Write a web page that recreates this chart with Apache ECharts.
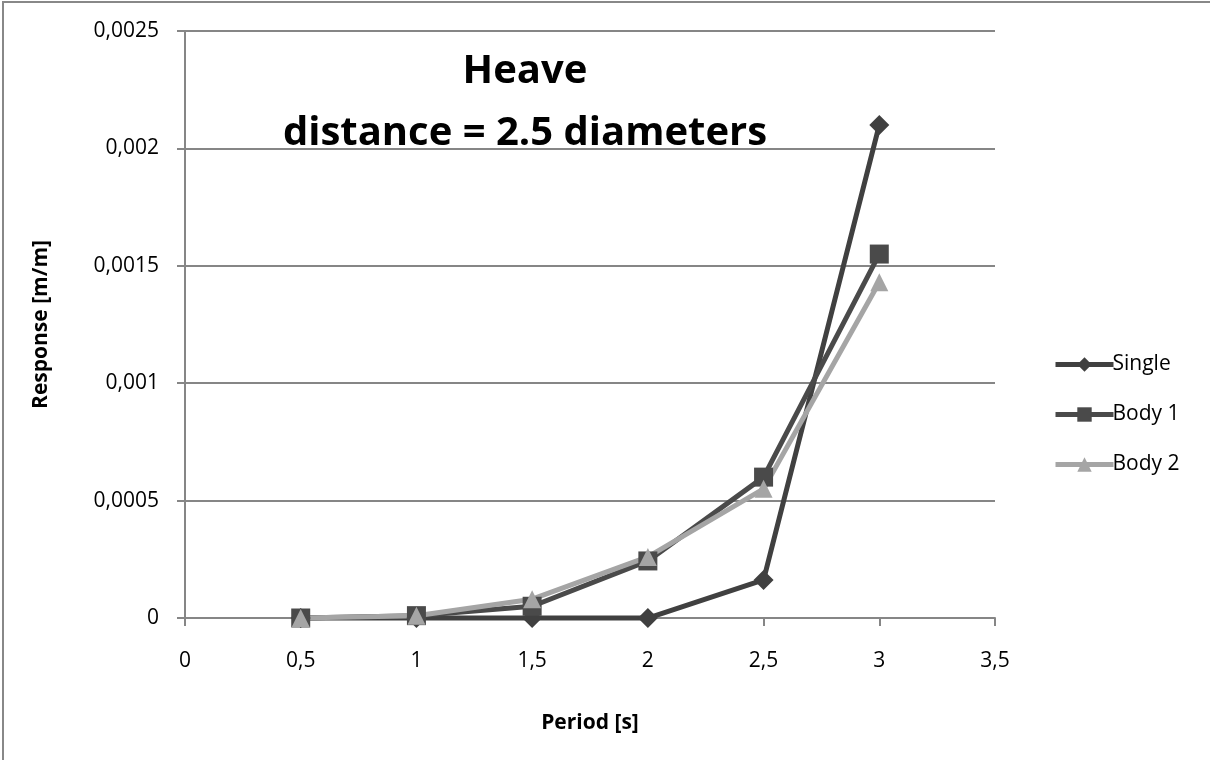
<!DOCTYPE html>
<html>
<head>
<meta charset="utf-8">
<script src="https://cdn.jsdelivr.net/npm/echarts@6/dist/echarts.min.js"></script>
<style>
  html, body { margin: 0; padding: 0; background: #fff; }
  #chart { width: 1210px; height: 760px; }
</style>
</head>
<body>
<div id="chart"></div>
<script>
// Heave response vs. wave period
const periods = [0.5, 1, 1.5, 2, 2.5, 3];
const single = [0, 0, 0, 0, 0.000162, 0.0021];
const body1 = [0, 0.00001, 0.00005, 0.000243, 0.0006, 0.00155];
const body2 = [0, 0.00001, 0.00008, 0.00026, 0.00055, 0.00143];
const yTickLabels = ['0', '0,0005', '0,001', '0,0015', '0,002', '0,0025'];
const xTickLabels = ['0', '0,5', '1', '1,5', '2', '2,5', '3', '3,5'];

const font = "'Open Sans', 'Noto Sans', sans-serif";

function pairs(vals) { return periods.map((p, i) => [p, vals[i]]); }

const chart = echarts.init(document.getElementById('chart'), null, { renderer: 'canvas' });

const seriesDefs = [
  { name: 'Single', data: single, color: '#404040', symbol: 'diamond', size: 20 },
  { name: 'Body 1', data: body1, color: '#4a4a4a', symbol: 'rect', size: 19 },
  { name: 'Body 2', data: body2, color: '#a5a5a5', symbol: 'triangle', size: 18 }
];

chart.setOption({
  animation: false,
  backgroundColor: '#fff',
  graphic: [{
    type: 'rect',
    shape: { x: 3, y: 2, width: 1220, height: 770 },
    style: { fill: 'none', stroke: '#888', lineWidth: 2 },
    silent: true
  }],
  title: {
    text: 'Heave\ndistance = 2.5 diameters',
    left: 520, top: 36, textAlign: 'center',
    textStyle: { fontFamily: font, fontWeight: 'bold', fontSize: 40, lineHeight: 62, color: '#000' }
  },
  legend: {
    orient: 'vertical', left: 1048, top: 349,
    itemWidth: 58, itemHeight: 18, itemGap: 29,
    lineStyle: { width: 5 },
    textStyle: { fontFamily: font, fontSize: 21, color: '#000', padding: [0, 0, 0, -6] },
    data: seriesDefs.map(s => s.name)
  },
  grid: { left: 185, right: 215, top: 31, bottom: 142 },
  xAxis: {
    type: 'value', min: 0, max: 3.5, interval: 0.5,
    name: 'Period [s]', nameLocation: 'middle', nameGap: 95,
    nameTextStyle: { fontFamily: font, fontWeight: 'bold', fontSize: 21, color: '#000' },
    axisLine: { show: true, onZero: true, lineStyle: { color: '#868686', width: 2 } },
    axisTick: { show: true, inside: false, length: 8, lineStyle: { color: '#868686', width: 2 } },
    axisLabel: {
      margin: 33, fontFamily: font, fontSize: 21, color: '#000',
      formatter: (v) => xTickLabels[Math.round(v / 0.5)]
    },
    splitLine: { show: false }
  },
  yAxis: {
    type: 'value', min: 0, max: 0.0025, interval: 0.0005,
    name: 'Response [m/m]', nameLocation: 'middle', nameGap: 133, nameRotate: 90,
    nameTextStyle: { fontFamily: font, fontWeight: 'bold', fontSize: 21, color: '#000' },
    axisLine: { show: true, lineStyle: { color: '#868686', width: 2 } },
    axisTick: { show: true, inside: false, length: 8, lineStyle: { color: '#868686', width: 2 } },
    axisLabel: {
      margin: 26, fontFamily: font, fontSize: 21, color: '#000',
      formatter: (v) => yTickLabels[Math.round(v / 0.0005)]
    },
    splitLine: { show: true, lineStyle: { color: '#868686', width: 2 } }
  },
  series: seriesDefs.map(s => ({
    name: s.name, type: 'line', data: pairs(s.data),
    symbol: s.symbol, symbolSize: s.size, showSymbol: true,
    lineStyle: { color: s.color, width: 5 },
    itemStyle: { color: s.color },
    clip: false
  }))
});
</script>
</body>
</html>
